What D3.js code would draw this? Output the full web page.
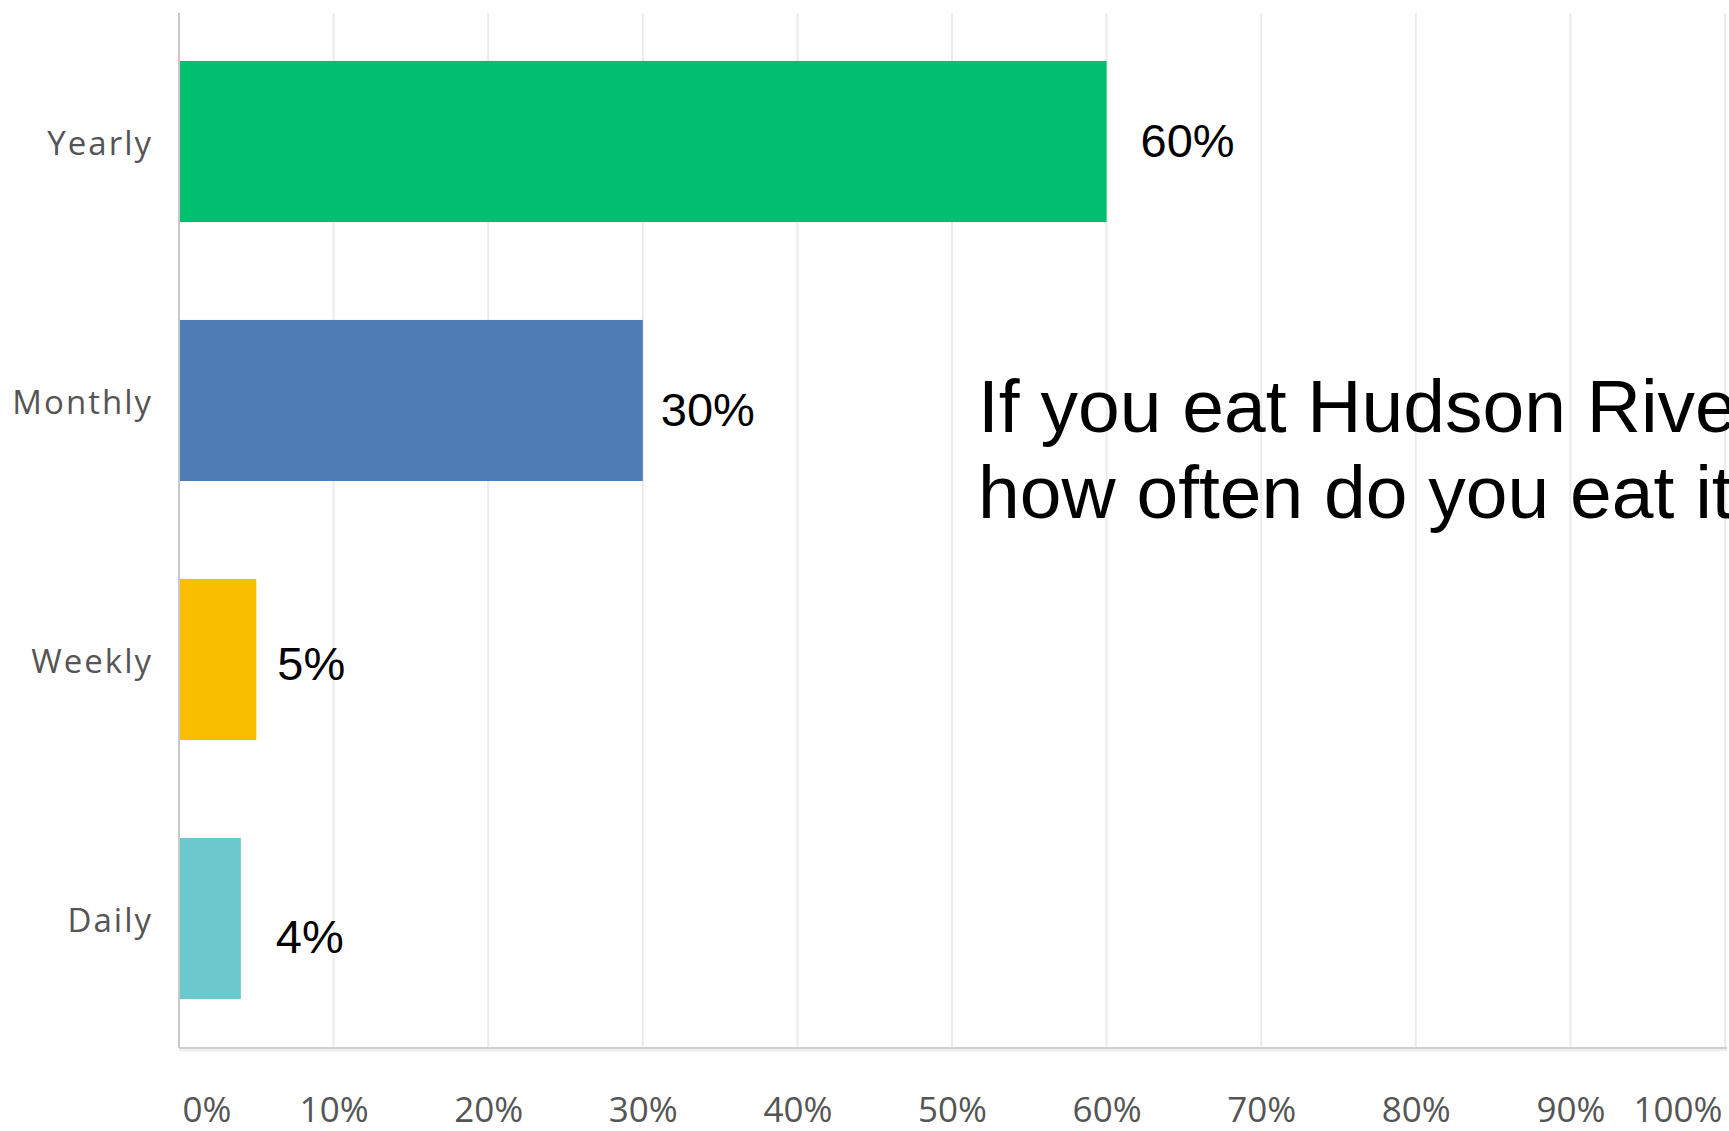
<!DOCTYPE html>
<html>
<head>
<meta charset="utf-8">
<script src="https://cdn.jsdelivr.net/npm/d3@7"></script>
<style>
  html, body { margin: 0; padding: 0; background: #ffffff; }
  svg { display: block; }
</style>
</head>
<body>
<svg id="chart" width="1729" height="1131"></svg>
<script>
// Survey responses: how often Hudson River fish is eaten
const categories = ["Yearly", "Monthly", "Weekly", "Daily"];
const values = [60, 30, 5, 4];
const barColors = ["#00bf6f", "#507cb6", "#f9be00", "#6bc8cd"];
const tickValues = [0, 10, 20, 30, 40, 50, 60, 70, 80, 90, 100];
const tickLabels = ["0%", "10%", "20%", "30%", "40%", "50%", "60%", "70%", "80%", "90%", "100%"];
const titleLines = ["If you eat Hudson River fish,", "how often do you eat it?"];

// small hand-placed offsets of the value callouts (dx, dy) relative to bar end / centre
const calloutNudge = [[34, -1], [18, 9], [21, 4], [35, 18]];

const svg = d3.select("#chart");
const plotTop = 13, plotBottom = 1048;

const x = d3.scaleLinear().domain([0, 100]).range([179, 1725]);
const y = d3.scaleBand()
  .domain(categories)
  .range([12, 1048])
  .paddingInner(0.378)
  .paddingOuter(0.189);

// vertical gridlines
svg.append("g")
  .selectAll("line")
  .data(tickValues.slice(1))
  .join("line")
  .attr("x1", d => x(d)).attr("x2", d => x(d))
  .attr("y1", plotTop).attr("y2", plotBottom)
  .attr("stroke", "#ebebeb")
  .attr("stroke-width", 2);

// title text sits over the grid and runs past the right edge
const title = svg.append("text")
  .attr("font-family", "'Liberation Sans', Arial, sans-serif")
  .attr("font-size", 75)
  .attr("fill", "#000");
title.selectAll("tspan")
  .data(titleLines)
  .join("tspan")
  .attr("x", 978)
  .attr("y", (d, i) => 432 + i * 86)
  .text(d => d);

// bars
svg.append("g")
  .selectAll("rect")
  .data(values)
  .join("rect")
  .attr("x", x(0))
  .attr("y", (d, i) => y(categories[i]))
  .attr("width", d => x(d) - x(0))
  .attr("height", y.bandwidth())
  .attr("fill", (d, i) => barColors[i]);

// left axis line
svg.append("line")
  .attr("x1", x(0)).attr("x2", x(0))
  .attr("y1", plotTop).attr("y2", plotBottom)
  .attr("stroke", "#c9c9c9")
  .attr("stroke-width", 2);

// bottom axis line with a soft shadow
svg.append("line")
  .attr("x1", x(0)).attr("x2", 1727)
  .attr("y1", plotBottom + 2).attr("y2", plotBottom + 2)
  .attr("stroke", "#efefef")
  .attr("stroke-width", 3);
svg.append("line")
  .attr("x1", x(0)).attr("x2", 1727)
  .attr("y1", plotBottom).attr("y2", plotBottom)
  .attr("stroke", "#cfcfcf")
  .attr("stroke-width", 2);

// x tick labels through a bottom axis
const xAxis = d3.axisBottom(x)
  .tickValues(tickValues)
  .tickFormat((d, i) => tickLabels[i])
  .tickSize(0)
  .tickPadding(0);
const xg = svg.append("g")
  .attr("transform", `translate(0, ${plotBottom})`)
  .call(xAxis);
xg.select(".domain").remove();
xg.selectAll("text")
  .attr("y", 74)
  .attr("dy", 0)
  .attr("font-family", "'Open Sans', sans-serif")
  .attr("font-size", 35)
  .attr("fill", "#555555")
  .attr("text-anchor", (d, i) => i === 0 ? "start" : (i === tickValues.length - 1 ? "end" : "middle"))
  .attr("dx", (d, i) => i === 0 ? 3 : (i === tickValues.length - 1 ? -3 : 0));

// category labels through a left axis
const yAxis = d3.axisLeft(y).tickSize(0).tickPadding(26);
const yg = svg.append("g")
  .attr("transform", `translate(${x(0)}, 3)`)
  .call(yAxis);
yg.select(".domain").remove();
yg.selectAll("text")
  .attr("font-family", "'Open Sans', sans-serif")
  .attr("font-size", 33)
  .attr("letter-spacing", 2)
  .attr("fill", "#555555");

// value callouts
svg.append("g")
  .selectAll("text")
  .data(values)
  .join("text")
  .attr("x", (d, i) => x(d) + calloutNudge[i][0])
  .attr("y", (d, i) => y(categories[i]) + y.bandwidth() / 2 + calloutNudge[i][1])
  .attr("dy", "0.36em")
  .attr("font-family", "'Liberation Sans', Arial, sans-serif")
  .attr("font-size", 47)
  .attr("fill", "#000")
  .text(d => d + "%");
</script>
</body>
</html>
